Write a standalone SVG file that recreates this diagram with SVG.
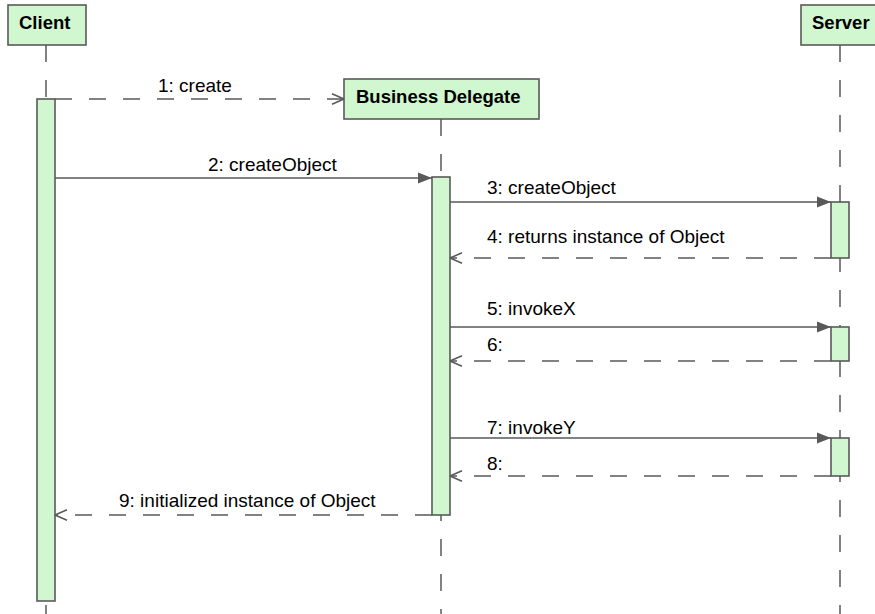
<svg xmlns="http://www.w3.org/2000/svg" width="875" height="614" viewBox="0 0 875 614">
  <style>
    .box { fill: #d0f7d0; stroke: #595959; stroke-width: 1.6; }
    .bar { fill: #d0f7d0; stroke: #595959; stroke-width: 1.6; }
    .life { stroke: #595959; stroke-width: 1.5; stroke-dasharray: 17 18; fill: none; }
    .call { stroke: #595959; stroke-width: 1.5; fill: none; marker-end: url(#filled); }
    .reply { stroke: #595959; stroke-width: 1.5; fill: none; stroke-dasharray: 17 17; marker-end: url(#open); }
    .title { font-family: "Liberation Sans", Helvetica, Arial, sans-serif; font-weight: bold; font-size: 18.5px; fill: #000; }
    .label { font-family: "Liberation Sans", Helvetica, Arial, sans-serif; font-size: 19px; fill: #000; }
  </style>
  <defs>
    <!-- solid triangle head for synchronous calls -->
    <marker id="filled" viewBox="0 0 14 12" refX="14" refY="6" markerWidth="14" markerHeight="12" markerUnits="userSpaceOnUse" orient="auto">
      <path d="M0,0.5 L14,6 L0,11.5 Z" fill="#595959"/>
    </marker>
    <!-- open V head for returns -->
    <marker id="open" viewBox="0 0 14 12" refX="13" refY="6" markerWidth="14" markerHeight="12" markerUnits="userSpaceOnUse" orient="auto">
      <path d="M13,6 L1,0.8 M13,6 L1,11.2" stroke="#595959" stroke-width="1.5" fill="none"/>
    </marker>
  </defs>

  <rect width="875" height="614" fill="#ffffff"/>

  <!-- lifelines -->
  <g id="lifelines">
    <line class="life" x1="46" y1="45" x2="46" y2="614"/>
    <line class="life" x1="441" y1="119" x2="441" y2="614"/>
    <line class="life" x1="840" y1="45" x2="840" y2="614"/>
  </g>

  <!-- participants -->
  <g id="client">
    <rect class="box" x="8" y="5" width="78" height="40"/>
    <text class="title" x="19" y="29">Client</text>
    <rect class="bar" x="37" y="99" width="18" height="502"/>
  </g>
  <g id="business-delegate">
    <rect class="box" x="344" y="79" width="195" height="40"/>
    <text class="title" x="356" y="103">Business Delegate</text>
    <rect class="bar" x="432" y="177" width="18" height="338"/>
  </g>
  <g id="server">
    <rect class="box" x="801" y="5" width="78" height="40"/>
    <text class="title" x="812" y="29">Server</text>
    <rect class="bar" x="831" y="202" width="18" height="56"/>
    <rect class="bar" x="831" y="327" width="18" height="34"/>
    <rect class="bar" x="831" y="438" width="18" height="38"/>
  </g>

  <!-- messages -->
  <g id="connectors">
    <line class="reply" x1="55" y1="99" x2="344" y2="99"/>
    <line class="call" x1="55" y1="178" x2="432" y2="178"/>
    <line class="call" x1="450" y1="202" x2="831" y2="202"/>
    <line class="reply" x1="831" y1="258" x2="450" y2="258"/>
    <line class="call" x1="450" y1="327" x2="831" y2="327"/>
    <line class="reply" x1="831" y1="361" x2="450" y2="361"/>
    <line class="call" x1="450" y1="438" x2="831" y2="438"/>
    <line class="reply" x1="831" y1="476" x2="450" y2="476"/>
    <line class="reply" x1="432" y1="515" x2="55" y2="515"/>
  </g>

  <g id="labels">
    <text class="label" x="158" y="92">1: create</text>
    <text class="label" x="208" y="171">2: createObject</text>
    <text class="label" x="487" y="194">3: createObject</text>
    <text class="label" x="487" y="243">4: returns instance of Object</text>
    <text class="label" x="487" y="315">5: invokeX</text>
    <text class="label" x="487" y="351">6:</text>
    <text class="label" x="487" y="434">7: invokeY</text>
    <text class="label" x="487" y="470">8:</text>
    <text class="label" x="119" y="507">9: initialized instance of Object</text>
  </g>
</svg>
